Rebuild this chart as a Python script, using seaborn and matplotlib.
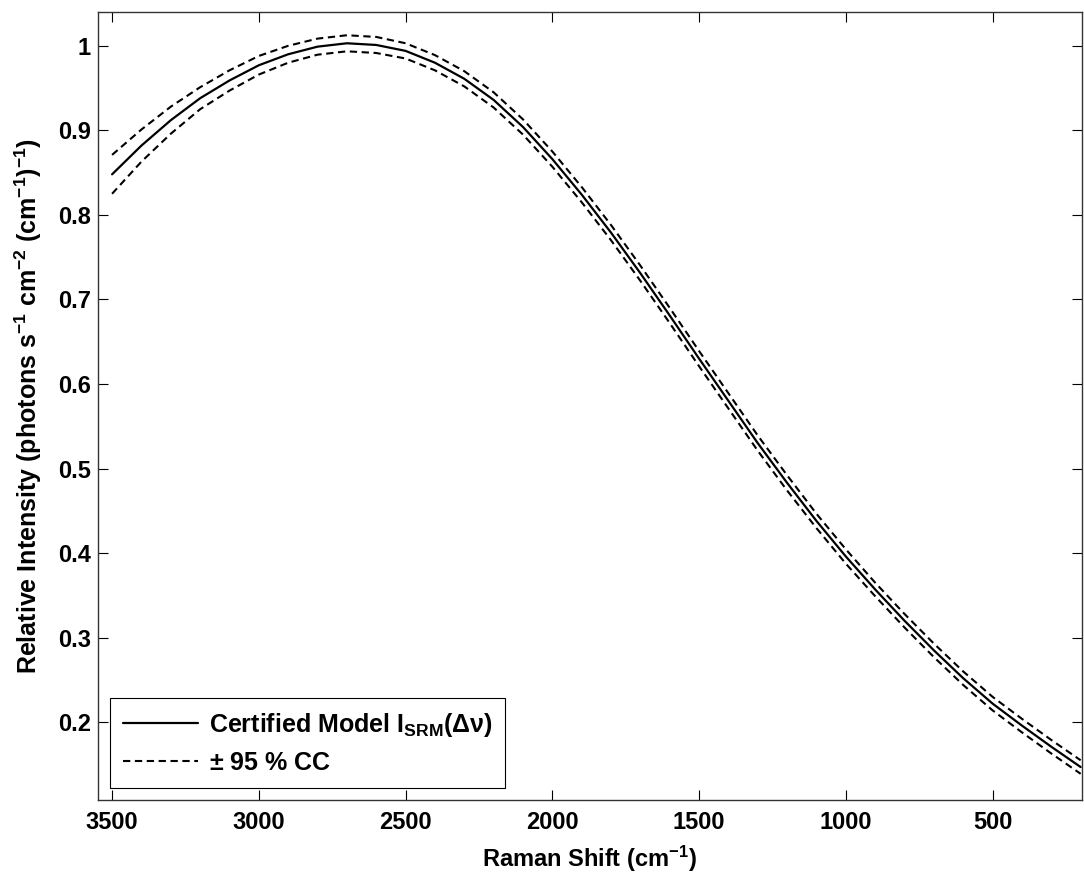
import matplotlib
matplotlib.use('Agg')
import matplotlib.pyplot as plt
import pandas as pd
import seaborn as sns

# values
raman_shift = [3500, 3400, 3300, 3200, 3100, 3000, 2900, 2800, 2700, 2600, 2500, 2400,
               2300, 2200, 2100, 2000, 1900, 1800, 1700, 1600, 1500, 1400, 1300, 1200,
               1100, 1000, 900, 800, 700, 600, 500, 400, 300, 200]
model = [0.848, 0.882, 0.912, 0.938, 0.959, 0.977, 0.990, 0.999, 1.003, 1.001, 0.994, 0.980,
         0.961, 0.936, 0.904, 0.866, 0.824, 0.779, 0.731, 0.681, 0.630, 0.580, 0.530, 0.483,
         0.438, 0.396, 0.357, 0.320, 0.285, 0.252, 0.222, 0.196, 0.171, 0.147]
ci_half = [0.023, 0.019, 0.016, 0.013, 0.012, 0.011, 0.010, 0.0095, 0.0095, 0.0095, 0.009, 0.009,
           0.009, 0.009, 0.009, 0.009, 0.009, 0.009, 0.009, 0.009, 0.009, 0.009, 0.009, 0.009,
           0.0085, 0.0085, 0.008, 0.008, 0.008, 0.008, 0.008, 0.008, 0.008, 0.008]

df = pd.DataFrame({'shift': raman_shift, 'model': model})
df['upper'] = [m + h for m, h in zip(model, ci_half)]
df['lower'] = [m - h for m, h in zip(model, ci_half)]

sns.set_theme(style='ticks')
plt.rcParams['font.family'] = ['Liberation Sans', 'DejaVu Sans']
plt.rcParams['font.weight'] = 'bold'
plt.rcParams['text.color'] = 'black'
plt.rcParams['axes.labelcolor'] = 'black'
plt.rcParams['mathtext.fontset'] = 'custom'
plt.rcParams['mathtext.rm'] = 'Liberation Sans'
plt.rcParams['mathtext.bf'] = 'Liberation Sans:bold'
plt.rcParams['mathtext.it'] = 'Liberation Sans:italic'
plt.rcParams['mathtext.default'] = 'bf'

fig = plt.figure(figsize=(10.84, 8.75), dpi=100)
ax = fig.add_axes([0.0904, 0.0857, 0.9076, 0.9006])

dash = (0, (3.5, 2.2))
sns.lineplot(data=df, x='shift', y='model', ax=ax, color='black', lw=1.6, sort=False,
             estimator=None, label='Certified Model I$_{SRM}$($\\Delta\\nu$)')
sns.lineplot(data=df, x='shift', y='upper', ax=ax, color='black', lw=1.5, sort=False,
             estimator=None, linestyle=dash, label='$\\pm$ 95 % CC')
sns.lineplot(data=df, x='shift', y='lower', ax=ax, color='black', lw=1.5, sort=False,
             estimator=None, linestyle=dash)

ax.set_xlim(3548, 196)
ax.set_ylim(0.108, 1.040)
ax.set_xticks([3500, 3000, 2500, 2000, 1500, 1000, 500])
ax.set_yticks([0.2, 0.3, 0.4, 0.5, 0.6, 0.7, 0.8, 0.9, 1.0])
ax.set_yticklabels(['0.2', '0.3', '0.4', '0.5', '0.6', '0.7', '0.8', '0.9', '1'])
ax.tick_params(direction='in', length=7, width=0.8, labelsize=17, top=True, right=True,
               colors='black', labelcolor='black')
ax.tick_params(axis='x', pad=8)
ax.tick_params(axis='y', pad=5)
for lab in ax.get_xticklabels() + ax.get_yticklabels():
    lab.set_fontweight('bold')
for sp in ax.spines.values():
    sp.set_visible(True)
    sp.set_color('#333333')
    sp.set_linewidth(1.0)

ax.set_xlabel('Raman Shift (cm$^{-1}$)', fontsize=17, fontweight='bold', labelpad=7)
ax.set_ylabel('Relative Intensity (photons s$^{-1}$ cm$^{-2}$ (cm$^{-1}$)$^{-1}$)',
              fontsize=18, fontweight='bold', labelpad=10)

leg = ax.legend(loc='lower left', frameon=True, fancybox=False,
                handlelength=3.0, borderaxespad=0.5, borderpad=0.5, labelspacing=0.5,
                handletextpad=0.45, prop={'weight': 'bold', 'size': 18})
leg.get_frame().set_edgecolor('black')
leg.get_frame().set_linewidth(0.8)
leg.get_frame().set_alpha(1)
for t in leg.get_texts():
    t.set_color('black')

fig.savefig('out.png', dpi=100, facecolor='white')
